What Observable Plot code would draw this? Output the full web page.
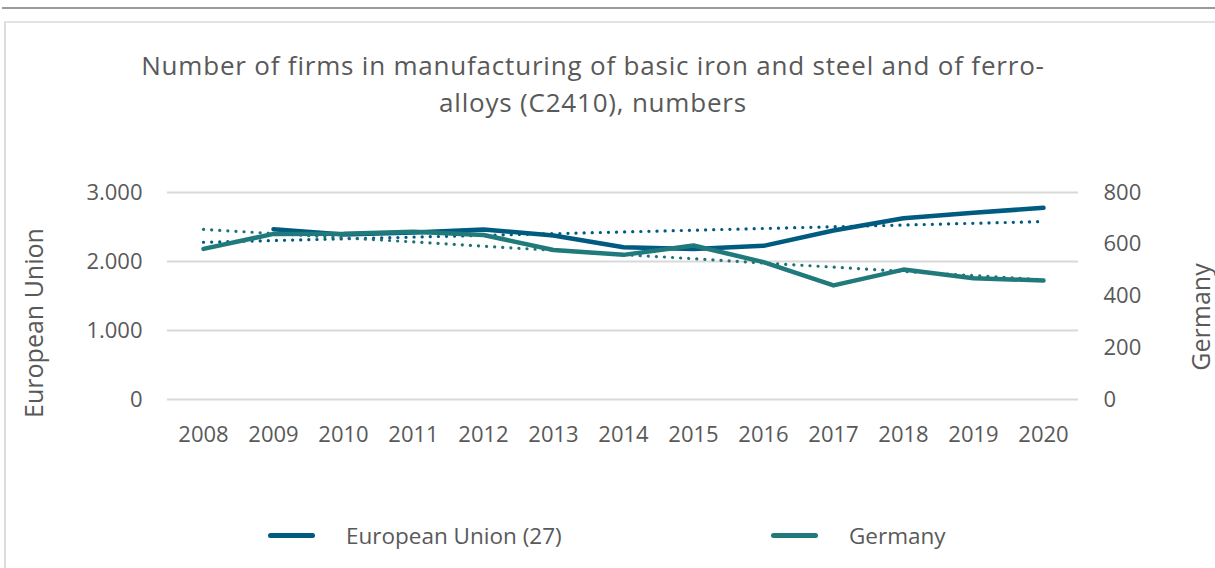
<!DOCTYPE html>
<html>
<head>
<meta charset="utf-8">
<script src="https://cdn.jsdelivr.net/npm/d3@7"></script>
<script src="https://cdn.jsdelivr.net/npm/@observablehq/plot@0.6"></script>
<style>
  html, body { margin: 0; padding: 0; background: #fff; }
  body { width: 1215px; height: 568px; overflow: hidden; position: relative; font-family: "Open Sans", "Noto Sans", sans-serif; color: #595959; }
  #topline { position: absolute; left: 2px; right: 0; top: 7px; height: 2px; background: #9a9a9a; }
  #frame { position: absolute; left: 4px; top: 21px; width: 1240px; height: 600px; border-left: 2px solid #dcdcdc; border-top: 2px solid #e3e3e3; }
  #title { position: absolute; left: 0; width: 1186px; top: 47px; text-align: center; font-size: 26px; letter-spacing: 0.8px; line-height: 37px; color: #595959; }
  #chart { position: absolute; left: 0; top: 0; }
  .axlabel { position: absolute; font-size: 25px; line-height: 24px; color: #595959; white-space: nowrap; }
  #legend { position: absolute; top: 520px; left: 0; font-size: 22.5px; color: #595959; }
  .item { position: absolute; display: flex; align-items: center; white-space: nowrap; }
  .swatch { width: 47px; height: 5px; border-radius: 3px; margin-right: 31px; }
</style>
</head>
<body>
<div id="topline"></div>
<div id="frame"></div>
<div id="chart"></div>
<div id="title">Number of firms in manufacturing of basic iron and steel and of ferro-<br>alloys (C2410), numbers</div>
<div class="axlabel" id="ylab-left" style="left:33px; top:323px; transform: translate(-50%,-50%) rotate(-90deg);">European Union</div>
<div class="axlabel" id="ylab-right" style="left:1200px; top:317px; transform: translate(-50%,-50%) rotate(-90deg);">Germany</div>
<div id="legend"></div>
<script>
const years = [2008, 2009, 2010, 2011, 2012, 2013, 2014, 2015, 2016, 2017, 2018, 2019, 2020];
const euValues = [null, 2468, 2390, 2420, 2465, 2377, 2207, 2180, 2227, 2449, 2628, 2706, 2778];
const deValues = [582, 640, 641, 648, 636, 578, 559, 595, 531, 441, 502, 469, 460];
const leftTicks = [0, 1000, 2000, 3000];
const rightTicks = [0, 200, 400, 600, 800];
const seriesNames = ["European Union (27)", "Germany"];
const colors = ["#005b80", "#207a7c"];
const trendColors = ["#005b80", "#1f7378"];

const rightMax = 800, leftMax = 3000;
const k = leftMax / rightMax;

const eu = years.map((y, i) => ({year: y, value: euValues[i]})).filter(d => d.value != null);
const de = years.map((y, i) => ({year: y, value: deValues[i] * k}));

// Linear trend (least squares over category index) extended across all categories
function trend(data) {
  const idx = data.map(d => years.indexOf(d.year));
  const mx = d3.mean(idx), my = d3.mean(data, d => d.value);
  let sxy = 0, sxx = 0;
  data.forEach((d, j) => { sxy += (idx[j] - mx) * (d.value - my); sxx += (idx[j] - mx) ** 2; });
  const b = sxy / sxx, a = my - b * mx;
  return years.map((y, i) => ({year: y, value: a + b * i}));
}
const euTrend = trend(eu);
const deTrend = trend(de);

const fmt = v => d3.format(",")(v).replace(/,/g, ".");

const plot = Plot.plot({
  width: 1215,
  height: 568,
  marginLeft: 167,
  marginRight: 137,
  marginTop: 192,
  marginBottom: 169,
  style: {fontFamily: '"Open Sans", "Noto Sans", sans-serif', fontSize: "22px", color: "#595959", background: "transparent"},
  x: {type: "point", domain: years, padding: 0.5},
  y: {domain: [0, leftMax]},
  marks: [
    Plot.gridY(leftTicks, {stroke: "#d9d9d9", strokeOpacity: 1, strokeWidth: 2}),
    Plot.axisY(leftTicks, {anchor: "left", tickSize: 0, tickPadding: 25, tickFormat: fmt, label: null, fill: "#595959"}),
    Plot.axisY(rightTicks.map(v => v * k), {anchor: "right", tickSize: 0, tickPadding: 25, tickFormat: v => fmt(Math.round(v / k)), label: null, fill: "#595959"}),
    Plot.axisX(years, {anchor: "bottom", tickSize: 0, tickPadding: 27, tickFormat: d => String(d), label: null, fill: "#595959"}),
    Plot.line(euTrend, {x: "year", y: "value", stroke: trendColors[0], strokeWidth: 3.2, strokeDasharray: "0.1 8", strokeLinecap: "round"}),
    Plot.line(deTrend, {x: "year", y: "value", stroke: trendColors[1], strokeWidth: 3.2, strokeDasharray: "0.1 8", strokeLinecap: "round"}),
    Plot.line(eu, {x: "year", y: "value", stroke: colors[0], strokeWidth: 4.5, strokeLinecap: "round", strokeLinejoin: "round"}),
    Plot.line(de, {x: "year", y: "value", stroke: colors[1], strokeWidth: 4.5, strokeLinecap: "round", strokeLinejoin: "round"})
  ]
});
document.getElementById("chart").appendChild(plot);

const legend = document.getElementById("legend");
const lx = [268, 771];
seriesNames.forEach((name, i) => {
  const it = document.createElement("div");
  it.className = "item";
  it.style.left = lx[i] + "px";
  it.style.top = "0px";
  const sw = document.createElement("div");
  sw.className = "swatch";
  sw.style.background = colors[i];
  const tx = document.createElement("span");
  tx.textContent = name;
  it.appendChild(sw);
  it.appendChild(tx);
  legend.appendChild(it);
});
</script>
</body>
</html>
